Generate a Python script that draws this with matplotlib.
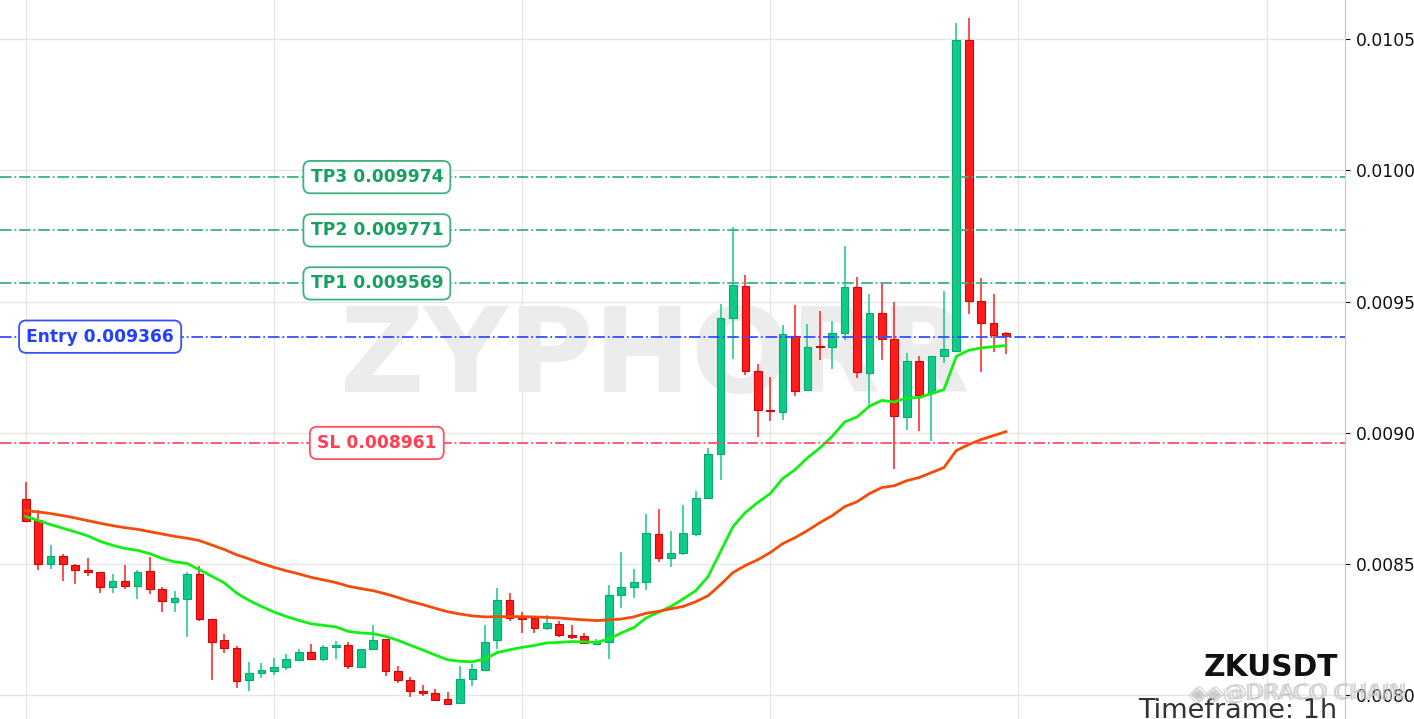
import matplotlib
matplotlib.use('Agg')
import matplotlib.pyplot as plt
import numpy as np

plt.rcParams['font.family'] = ['DejaVu Sans']

# ZKUSDT 1h candles (units: 1e-6 USDT)
opens = [8748, 8669, 8498, 8530, 8496, 8477, 8470, 8411, 8435, 8415,
         8473, 8405, 8354, 8365, 8462, 8289, 8210, 8180, 8056, 8083,
         8091, 8106, 8134, 8165, 8136, 8182, 8191, 8107, 8175, 8214,
         8092, 8058, 8017, 8008, 7986, 7969, 8060, 8097, 8209, 8363,
         8299, 8293, 8255, 8271, 8229, 8226, 8196, 8201, 8380, 8411,
         8430, 8614, 8521, 8540, 8615, 8753, 8917, 9436, 9559, 9236,
         9088, 9078, 9369, 9162, 9332, 9325, 9379, 9556, 9228, 9457,
         9357, 9059, 9274, 9152, 9291, 9313, 10498, 9502, 9418, 9380]
highs = [8811, 8704, 8571, 8538, 8498, 8521, 8470, 8460, 8495, 8477,
         8525, 8412, 8396, 8470, 8491, 8289, 8233, 8186, 8127, 8123,
         8142, 8157, 8176, 8195, 8191, 8207, 8201, 8176, 8268, 8214,
         8110, 8068, 8039, 8022, 8011, 8110, 8120, 8268, 8409, 8389,
         8317, 8300, 8306, 8281, 8268, 8237, 8215, 8418, 8544, 8481,
         8691, 8708, 8624, 8725, 8779, 8942, 9489, 9783, 9601, 9262,
         9211, 9409, 9486, 9413, 9464, 9426, 9710, 9592, 9529, 9572,
         9498, 9303, 9293, 9293, 9540, 10562, 10582, 9590, 9529, 9384]
lows = [8660, 8478, 8481, 8436, 8424, 8455, 8389, 8389, 8405, 8367,
        8386, 8317, 8317, 8222, 8281, 8058, 8161, 8027, 8016, 8066,
        8077, 8096, 8130, 8134, 8129, 8138, 8100, 8107, 8175, 8073,
        8045, 7993, 7995, 7980, 7961, 7969, 8034, 8097, 8176, 8281,
        8237, 8237, 8247, 8222, 8212, 8194, 8190, 8138, 8332, 8370,
        8402, 8508, 8489, 8535, 8608, 8753, 8821, 9281, 9219, 8984,
        9045, 9049, 9139, 9162, 9277, 9243, 9355, 9209, 9101, 9277,
        8862, 9011, 9005, 8967, 9266, 9310, 9454, 9232, 9308, 9300]
closes = [8662, 8498, 8530, 8498, 8477, 8468, 8411, 8435, 8415, 8470,
          8403, 8357, 8370, 8462, 8289, 8201, 8178, 8053, 8085, 8096,
          8107, 8138, 8165, 8136, 8184, 8191, 8110, 8176, 8210, 8091,
          8056, 8014, 8007, 7980, 7968, 8062, 8100, 8203, 8363, 8293,
          8289, 8255, 8275, 8228, 8220, 8199, 8205, 8382, 8412, 8431,
          8618, 8521, 8542, 8618, 8753, 8919, 9437, 9563, 9237, 9085,
          9082, 9377, 9158, 9327, 9325, 9380, 9556, 9230, 9457, 9356,
          9063, 9274, 9145, 9293, 9319, 10498, 9502, 9418, 9374, 9367]

ema_fast = [8681, 8666, 8650, 8636, 8622, 8607, 8586, 8571, 8559, 8552,
            8539, 8521, 8508, 8502, 8478, 8453, 8428, 8389, 8361, 8338,
            8317, 8300, 8285, 8272, 8266, 8260, 8243, 8237, 8234, 8224,
            8209, 8190, 8172, 8153, 8135, 8129, 8127, 8138, 8162, 8173,
            8182, 8189, 8199, 8201, 8204, 8203, 8201, 8214, 8237, 8257,
            8294, 8316, 8338, 8367, 8398, 8452, 8547, 8642, 8696, 8734,
            8768, 8825, 8859, 8904, 8942, 8986, 9041, 9060, 9101, 9123,
            9117, 9133, 9134, 9149, 9164, 9291, 9314, 9323, 9328, 9332]
ema_slow = [8703, 8698, 8692, 8684, 8675, 8665, 8655, 8646, 8638, 8632,
            8623, 8614, 8605, 8598, 8589, 8572, 8555, 8535, 8519, 8502,
            8487, 8474, 8462, 8449, 8439, 8429, 8415, 8406, 8398, 8386,
            8372, 8357, 8345, 8331, 8318, 8309, 8302, 8298, 8299, 8299,
            8299, 8298, 8296, 8294, 8290, 8287, 8284, 8287, 8290, 8298,
            8312, 8319, 8329, 8338, 8356, 8379, 8421, 8467, 8494, 8516,
            8543, 8577, 8600, 8627, 8657, 8684, 8718, 8737, 8768, 8791,
            8798, 8817, 8829, 8848, 8867, 8932, 8955, 8974, 8989, 9004]

level_names = ['TP3', 'TP2', 'TP1', 'Entry', 'SL']
level_prices = [0.009974, 0.009771, 0.009569, 0.009366, 0.008961]
yticks = [0.0080, 0.0085, 0.0090, 0.0095, 0.0100, 0.0105]
xticks = [0, 20, 40, 60, 80, 100]

UP = '#10cb88'
UP_EDGE = '#0aa873'
DOWN = '#ff1c1c'
DOWN_EDGE = '#c80a0a'

o, h, l, c = [np.array(a) * 1e-6 for a in (opens, highs, lows, closes)]
x = np.arange(len(o))
up = c >= o

fig = plt.figure(figsize=(14.14, 7.19), dpi=100)
ax = fig.add_axes([0, 0, 1344.7 / 1414, 1])
ax.set_xlim(-2.07, 106.3)
ax.set_ylim(0.007909, 0.010649)

ax.grid(True, color='#e6e6e6', lw=1.0, zorder=0)
ax.set_axisbelow(True)
ax.set_xticks(xticks)
ax.set_yticks(yticks)
ax.set_yticklabels([f'{t:.4f}' for t in yticks])
ax.yaxis.tick_right()
ax.tick_params(axis='x', length=0, labelbottom=False)
ax.tick_params(axis='y', labelsize=12.3, length=3.5, width=0.8, pad=4.5, colors='#111111')
for s in ['top', 'left', 'bottom']:
    ax.spines[s].set_visible(False)
ax.spines['right'].set_color('#c8c8c8')

# 背景のロゴ
ax.text(0.487, 0.455, 'ZYPHORR', transform=ax.transAxes, fontsize=84, fontweight='bold',
        color='#ececec', ha='center', va='baseline', zorder=1)

# ローソク足
ax.vlines(x[up], l[up], h[up], color=UP, lw=1.1, zorder=3)
ax.vlines(x[~up], l[~up], h[~up], color=DOWN, lw=1.1, zorder=3)
ax.bar(x[up], (c - o)[up], bottom=o[up], width=0.62, color=UP, edgecolor=UP_EDGE, lw=0.8, zorder=4)
ax.bar(x[~up], (o - c)[~up], bottom=c[~up], width=0.62, color=DOWN, edgecolor=DOWN_EDGE, lw=0.8, zorder=4)

# EMA
ax.plot(x, np.array(ema_fast) * 1e-6, color='#12f012', lw=2.0, zorder=5)
ax.plot(x, np.array(ema_slow) * 1e-6, color='#f24c08', lw=2.0, zorder=5)

# Entry / TP / SL
level_styles = {
    'TP3': ('#3cb37a', '#17a160', 28.3),
    'TP2': ('#3cb37a', '#17a160', 28.3),
    'TP1': ('#3cb37a', '#17a160', 28.3),
    'Entry': ('#3350ff', '#2440ff', 6.0),
    'SL': ('#ff5064', '#ff4054', 28.3),
}
for name, price in zip(level_names, level_prices):
    line_color, text_color, label_x = level_styles[name]
    ax.axhline(price, color=line_color, lw=1.3, ls='-.', zorder=6)
    ax.text(label_x, price, f'{name} {price:.6f}', fontsize=12.3, fontweight='bold', color=text_color,
            ha='center', va='center', zorder=7,
            bbox=dict(boxstyle='round,pad=0.42', fc='white', ec=line_color, lw=1.3))

# タイトル
fig.text(1338 / 1414, 1 - 676 / 719, 'ZKUSDT', fontsize=21.3, fontweight='bold', color='#111111',
         ha='right', va='baseline')
fig.text(1337 / 1414, 1 - 717.5 / 719, 'Timeframe: 1h', fontsize=19.5, color='#333333',
         ha='right', va='baseline')

# 右下の透かし
for dx, dy in [(0, 0), (3, -1)]:
    fig.text((1222 + dx) / 1414, 1 - (700 + dy) / 719, '@DRACO CHAIN', fontsize=16.2, color='#c4c4c4',
             alpha=0.7, ha='left', va='baseline')
    fig.text((1188 + dx) / 1414, 1 - (700 + dy) / 719, '◈◈', fontsize=16.2, color='#c4c4c4',
             alpha=0.7, ha='left', va='baseline')

plt.savefig('out.png', dpi=100)
